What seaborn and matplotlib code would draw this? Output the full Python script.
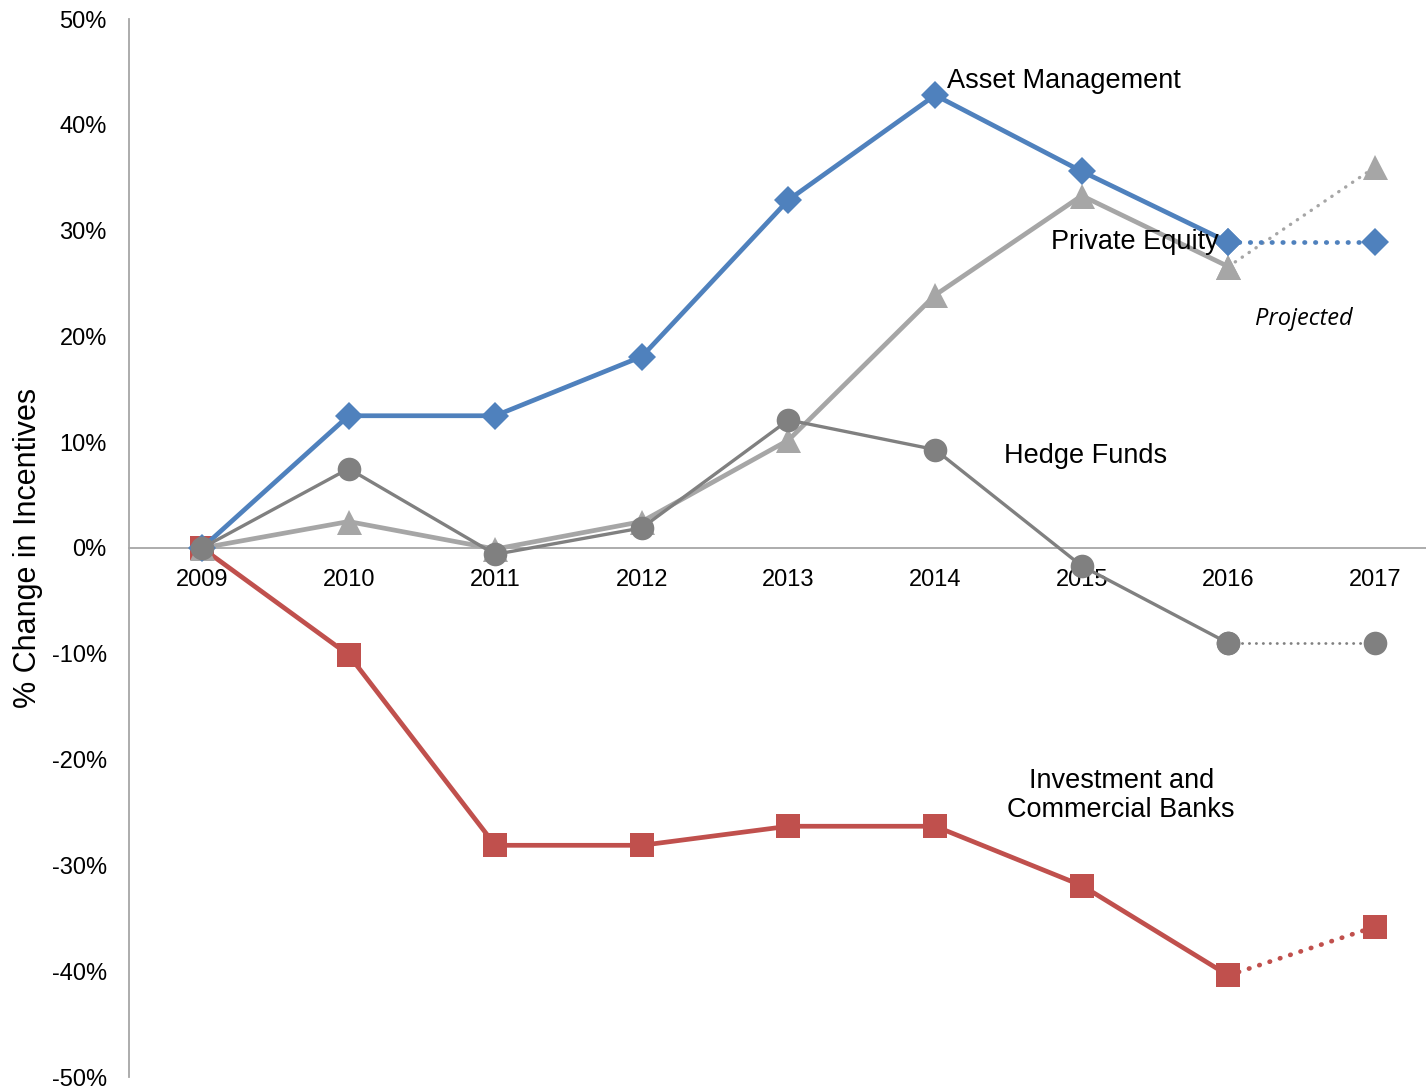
import matplotlib
matplotlib.use("Agg")
import matplotlib.pyplot as plt
import pandas as pd
import seaborn as sns

years = [2009, 2010, 2011, 2012, 2013, 2014, 2015, 2016, 2017]
asset_mgmt = [0, 12.5, 12.5, 18.1, 32.9, 42.8, 35.6, 28.9, 28.9]
private_equity = [0, 2.5, -0.1, 2.5, 10.2, 23.9, 33.3, 26.6, 36.0]
hedge_funds = [0, 7.5, -0.6, 1.9, 12.1, 9.3, -1.7, -9.0, -9.0]
banks = [0, -10.1, -28.1, -28.1, -26.3, -26.3, -31.9, -40.4, -35.8]
y_ticks = [-50, -40, -30, -20, -10, 0, 10, 20, 30, 40, 50]

sns.set_theme(style="white")
plt.rcParams['font.family'] = ['Liberation Sans', 'DejaVu Sans']
plt.rcParams['text.color'] = 'black'
plt.rcParams['axes.labelcolor'] = 'black'
plt.rcParams['xtick.color'] = 'black'
plt.rcParams['ytick.color'] = 'black'

W, H = 1426, 1091
fig = plt.figure(figsize=(W / 100, H / 100), dpi=100)
ax = fig.add_axes([129 / W, 1 - 1077 / H, (W - 129) / W, (1077 - 19) / H])

series = [
    ("banks", banks, "#C0504D", "s", 17, 3.4, 3.4),
    ("pe", private_equity, "#A6A6A6", "^", 18, 3.4, 2.4),
    ("am", asset_mgmt, "#4F81BD", "D", 14.5, 3.4, 3.4),
    ("hf", hedge_funds, "#808080", "o", 17, 2.4, 2.0),
]

for name, vals, col, mk, ms, lw, dlw in series:
    solid = pd.DataFrame({"year": years[:8], "val": vals[:8]})
    proj = pd.DataFrame({"year": years[7:], "val": vals[7:]})
    gap = 2.2 if name in ("am", "banks") else 2.4
    sns.lineplot(data=proj, x="year", y="val", ax=ax, color=col, lw=dlw,
                 linestyle=(0, (0.1, gap)), dash_capstyle="round", marker=mk, markersize=ms,
                 markeredgewidth=0, markeredgecolor=col)
    sns.lineplot(data=solid, x="year", y="val", ax=ax, color=col, lw=lw,
                 marker=mk, markersize=ms, markeredgewidth=0, markeredgecolor=col)

for s in ("top", "right"):
    ax.spines[s].set_visible(False)
ax.spines["bottom"].set_position(("data", 0))
ax.spines["bottom"].set_color("#A6A6A6")
ax.spines["bottom"].set_linewidth(1.3)
ax.spines["left"].set_color("#A6A6A6")
ax.spines["left"].set_linewidth(1.3)
ax.spines["bottom"].set_zorder(0.5)

ax.set_xlim(2009 - 0.498, 2017 + 0.348)
ax.set_ylim(-50, 50)
ax.set_xticks(years)
ax.set_xticklabels([str(y) for y in years], fontsize=17)
ax.set_yticks(y_ticks)
ax.set_yticklabels([f"{v}%" for v in y_ticks], fontsize=17)
ax.tick_params(axis="x", length=0, pad=15, labelsize=17)
ax.tick_params(axis="y", length=0, pad=16, labelsize=17)
ax.set_xlabel("")
ax.set_ylabel("% Change in Incentives", fontsize=22, labelpad=6)

ax.text(2014.082, 44.1, "Asset Management", fontsize=19.5, ha="left", va="center")
ax.text(2015.365, 28.9, "Private Equity", fontsize=19.5, ha="center", va="center")
ax.text(2016.517, 21.6, "Projected", fontsize=17, ha="center", va="center",
        style="italic", family=["Open Sans", "DejaVu Sans"])
ax.text(2015.027, 8.7, "Hedge Funds", fontsize=19.5, ha="center", va="center")
ax.text(2015.269, -23.4, "Investment and\nCommercial Banks", fontsize=19.5, ha="center",
        va="center", linespacing=1.15)

fig.savefig("out.png", dpi=100)
